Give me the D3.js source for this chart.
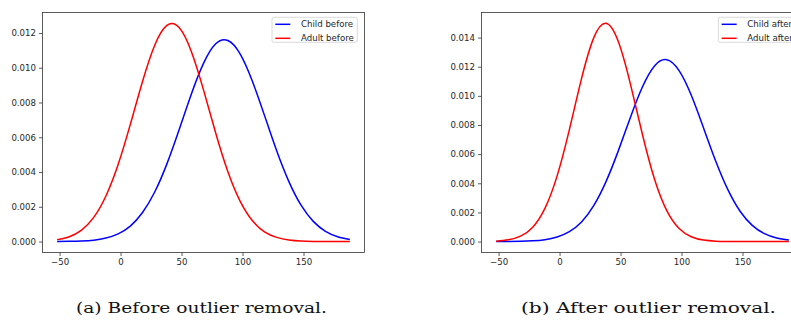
<!DOCTYPE html>
<html>
<head>
<meta charset="utf-8">
<script src="https://cdn.jsdelivr.net/npm/d3@7"></script>
<style>
  body { margin: 0; background: #fff; }
  svg { display: block; }
</style>
</head>
<body>
<div id="chart"></div>
<script>
// sample positions along x (same for every curve)
const xs = [-52, -42, -32, -22, -12, -2, 8, 18, 28, 38, 48, 58, 68, 78, 88, 98, 108, 118, 128, 138, 148, 158, 168, 178, 188];

const childBefore = [0.000004, 0.000011, 0.00003, 0.00008, 0.0002, 0.00044, 0.00089, 0.00167, 0.00285, 0.00447, 0.00643, 0.00848, 0.01025, 0.01138, 0.01157, 0.0108, 0.00924, 0.00726, 0.00522, 0.00345, 0.00209, 0.00116, 0.00059, 0.00028, 0.00012];
const adultBefore = [0.00011, 0.00028, 0.00066, 0.00139, 0.00262, 0.00443, 0.00674, 0.00921, 0.0113, 0.01244, 0.01231, 0.01094, 0.00873, 0.00625, 0.00402, 0.00233, 0.00121, 0.00056, 0.00024, 0.00009, 0.00003, 0.00001, 0, 0, 0];
const childAfter = [0.000001, 0.000005, 0.000016, 0.00005, 0.00013, 0.00031, 0.00068, 0.00135, 0.00247, 0.0041, 0.00619, 0.0085, 0.01062, 0.01207, 0.01248, 0.01173, 0.01004, 0.00781, 0.00553, 0.00356, 0.00208, 0.00111, 0.00054, 0.00024, 0.0001];
const adultAfter = [0.00003, 0.00012, 0.00037, 0.00099, 0.00228, 0.00451, 0.00767, 0.01118, 0.01398, 0.01498, 0.01376, 0.01084, 0.00733, 0.00424, 0.00211, 0.0009, 0.00033, 0.0001, 0.00003, 0.00001, 0, 0, 0, 0, 0];

const xTicks = [-50, 0, 50, 100, 150];
const yTicksBefore = [0, 0.002, 0.004, 0.006, 0.008, 0.010, 0.012];
const yTicksAfter = [0, 0.002, 0.004, 0.006, 0.008, 0.010, 0.012, 0.014];

const labelsBefore = ["Child before", "Adult before"];
const labelsAfter = ["Child after", "Adult after"];
const captions = ["(a) Before outlier removal.", "(b) After outlier removal."];

const COLORS = ["#0000ff", "#ff0000"];
const WIDTH = 791, HEIGHT = 323;
const TOP = 12.5, BOTTOM = 252.5;

const svg = d3.select("#chart").append("svg")
  .attr("width", WIDTH)
  .attr("height", HEIGHT);

const panels = [
  { left: 42.5, right: 364.5, yMax: 0.01318, yMin: -0.00063, yTicks: yTicksBefore,
    series: [childBefore, adultBefore], labels: labelsBefore, caption: captions[0], capX: 76, capW: 251 },
  { left: 481.5, right: 803.5, yMax: 0.01572, yMin: -0.00075, yTicks: yTicksAfter,
    series: [childAfter, adultAfter], labels: labelsAfter, caption: captions[1], capX: 521, capW: 255 }
];

const fmtY = d3.format(".3f");
const fmtX = d3.format("d");

panels.forEach((p, i) => {
  const x = d3.scaleLinear().domain([-64, 200]).range([p.left, p.right]);
  const y = d3.scaleLinear().domain([p.yMin, p.yMax]).range([BOTTOM, TOP]);
  const g = svg.append("g");

  // lines
  const line = d3.line()
    .x((d, j) => x(xs[j]))
    .y(d => y(d))
    .curve(d3.curveNatural);

  p.series.forEach((s, k) => {
    g.append("path")
      .datum(s)
      .attr("d", line)
      .attr("fill", "none")
      .attr("stroke", COLORS[k])
      .attr("stroke-width", 1.5);
  });

  // axes
  const xAxis = g.append("g")
    .attr("transform", `translate(0, ${BOTTOM})`)
    .call(d3.axisBottom(x).tickValues(xTicks).tickFormat(fmtX).tickSize(3.5).tickPadding(3));
  const yAxis = g.append("g")
    .attr("transform", `translate(${p.left}, 0)`)
    .call(d3.axisLeft(y).tickValues(p.yTicks).tickFormat(fmtY).tickSize(3.5).tickPadding(3));

  [xAxis, yAxis].forEach(a => {
    a.select(".domain").remove();
    a.selectAll(".tick line").attr("stroke", "#333").attr("stroke-width", 0.8);
    a.selectAll(".tick text")
      .attr("fill", "#262626")
      .attr("font-family", "DejaVu Sans")
      .attr("font-size", 8.6);
  });

  // frame
  g.append("rect")
    .attr("x", p.left)
    .attr("y", TOP)
    .attr("width", p.right - p.left)
    .attr("height", BOTTOM - TOP)
    .attr("fill", "none")
    .attr("stroke", "#333")
    .attr("stroke-width", 0.8);

  // legend
  const leg = g.append("g");
  const box = leg.append("rect")
    .attr("fill", "#fff")
    .attr("fill-opacity", 0.8)
    .attr("stroke", "#d0d0d0")
    .attr("stroke-width", 0.8)
    .attr("rx", 2);
  let maxW = 0;
  p.labels.forEach((lab, k) => {
    const it = leg.append("g").attr("transform", `translate(0, ${k * 14})`);
    it.append("line")
      .attr("x1", 0).attr("x2", 15)
      .attr("y1", 0).attr("y2", 0)
      .attr("stroke", COLORS[k])
      .attr("stroke-width", 1.5);
    const t = it.append("text")
      .attr("x", 25.7)
      .attr("dy", "0.35em")
      .attr("font-family", "DejaVu Sans")
      .attr("font-size", 8.6)
      .attr("fill", "#262626")
      .text(lab);
    maxW = Math.max(maxW, t.node().getComputedTextLength());
  });
  const boxW = 3.3 + 25.7 + maxW + 3.5;
  const boxX = p.right - 7.2 - boxW;
  box.attr("x", -3.3).attr("y", -7).attr("width", boxW).attr("height", 25);
  leg.attr("transform", `translate(${boxX + 3.3}, ${TOP + 11.8})`);

  // caption
  svg.append("text")
    .attr("x", p.capX)
    .attr("y", 313)
    .attr("font-family", "DejaVu Serif")
    .attr("font-size", 14)
    .attr("textLength", p.capW)
    .attr("lengthAdjust", "spacingAndGlyphs")
    .attr("fill", "#111")
    .text(p.caption);
});
</script>
</body>
</html>
